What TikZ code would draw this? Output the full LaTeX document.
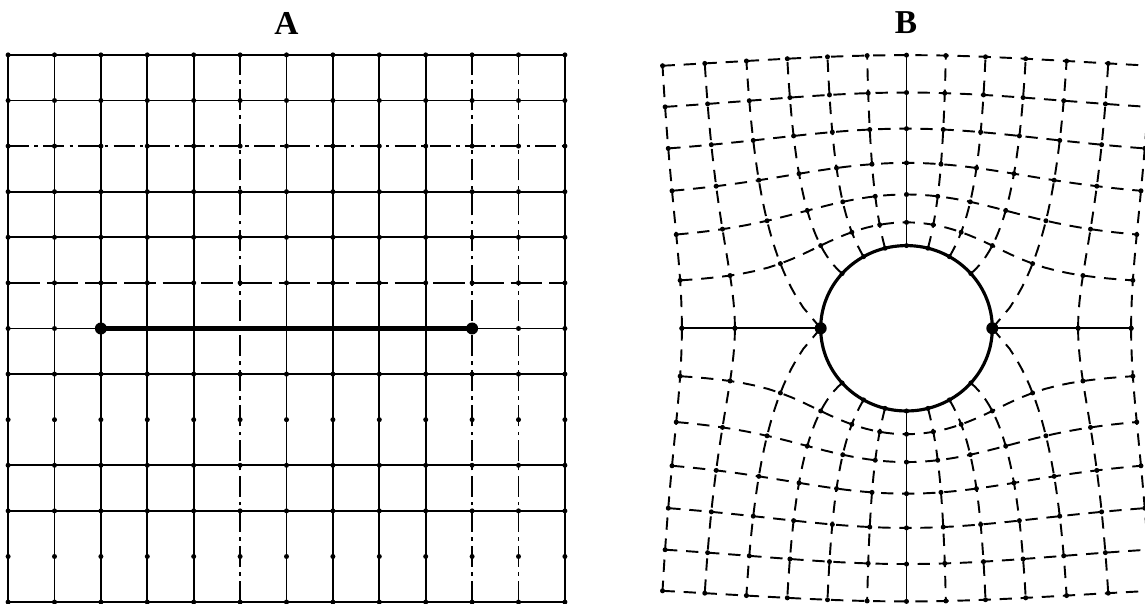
\documentclass[tikz,border=0pt]{standalone}
\usepackage{fontspec}
\setmainfont{Liberation Serif}

\tikzset{
  gridline/.style={line width=0.5pt},
  gridbreak/.style={line width=0.5pt, dash pattern=on 6pt off 1.5pt on 1pt off 1.5pt},
  gridlong/.style={line width=0.5pt, dash pattern=on 9pt off 2pt},
  mapline/.style={line width=0.55pt, dash pattern=on 3.5pt off 2.5pt},
  panelname/.style={font=\fontsize{9.5}{11}\selectfont\bfseries},
}

\begin{document}
\begin{tikzpicture}[
  declare function={
    focl(\x,\y)=sqrt((\x+4)*(\x+4)+\y*\y);
    focr(\x,\y)=sqrt((\x-4)*(\x-4)+\y*\y);
    ellc(\x,\y)=(focl(\x,\y)+focr(\x,\y))/8;
    elld(\x,\y)=(focl(\x,\y)-focr(\x,\y))/8;
    radw(\x,\y)=2*(ellc(\x,\y)+sqrt(max(ellc(\x,\y)*ellc(\x,\y)-1,0)));
    jx(\x,\y)=radw(\x,\y)*elld(\x,\y);
    jy(\x,\y)=radw(\x,\y)*sqrt(max(1-elld(\x,\y)*elld(\x,\y),0));
  }]
  \useasboundingbox (0,0) rectangle (11.45,6.04);
  \clip (0,0) rectangle (11.45,6.04);

  \node[panelname] (labelA) at (2.865,5.81) {A};
  \node[panelname] (labelB) at (9.06,5.81) {B};

  % plane with the slit
  \begin{scope}[xshift=2.865cm, yshift=2.755cm, x=0.464cm, y=0.456cm]
    \foreach \j in {-6,-4,-3,-1,0,2,3,5,6}
      \draw[gridline] (-6,\j) -- (6,\j);
    \draw[gridbreak] (-6,4) -- (6,4);
    \draw[gridlong] (-6,1) -- (6,1);
    \foreach \i in {-6,-5,-4,-3,-2,0,1,2,3,6}
      \draw[gridline] (\i,-6) -- (\i,6);
    \foreach \i in {-1,4,5}
      \draw[gridbreak] (\i,-6) -- (\i,6);
    \foreach \i in {-6,...,6}
      \foreach \j in {-6,...,6}
        \fill (\i,\j) circle (0.025cm);
    \coordinate (slitL) at (-4,0);
    \coordinate (slitR) at (4,0);
    \draw[line width=1.2pt] (slitL) -- (slitR);
    \fill (slitL) circle (0.06cm);
    \fill (slitR) circle (0.06cm);
  \end{scope}

  % the same grid outside the circle
  \begin{scope}[xshift=9.065cm, yshift=2.757cm, x=0.429cm, y=0.4135cm]
    \foreach \j in {1,...,6} {
      \draw[mapline] plot[variable=\t, domain=-6:6, samples=49] ({jx(\t,\j)},{jy(\t,\j)});
      \draw[mapline] plot[variable=\t, domain=-6:6, samples=49] ({jx(\t,\j)},{-jy(\t,\j)});
    }
    \foreach \i in {-6,-5,-4,-3,-2,-1,1,2,3,4,5,6} {
      \draw[mapline] plot[variable=\t, domain=0:6, samples=37] ({jx(\i,\t)},{jy(\i,\t)});
      \draw[mapline] plot[variable=\t, domain=0:6, samples=37] ({jx(\i,\t)},{-jy(\i,\t)});
    }
    \coordinate (ringL) at (-2,0);
    \coordinate (ringR) at (2,0);
    \coordinate (ringT) at (0,2);
    \coordinate (ringB) at (0,-2);
    \coordinate (farL) at ({jx(-6,0)},0);
    \coordinate (farR) at ({jx(6,0)},0);
    \coordinate (farT) at (0,{jy(0,6)});
    \coordinate (farB) at (0,{-jy(0,6)});
    \draw[gridline] (farL) -- (ringL);
    \draw[gridline] (ringR) -- (farR);
    \draw[gridline] (ringT) -- (farT);
    \draw[gridline] (ringB) -- (farB);
    \draw[line width=0.9pt] (0,0) circle (2);
    \foreach \i in {-6,...,6}
      \foreach \j in {0,...,6} {
        \fill ({jx(\i,\j)},{jy(\i,\j)}) circle (0.025cm);
        \fill ({jx(\i,\j)},{-jy(\i,\j)}) circle (0.025cm);
      }
    \fill (ringL) circle (0.06cm);
    \fill (ringR) circle (0.06cm);
  \end{scope}
\end{tikzpicture}
\end{document}
